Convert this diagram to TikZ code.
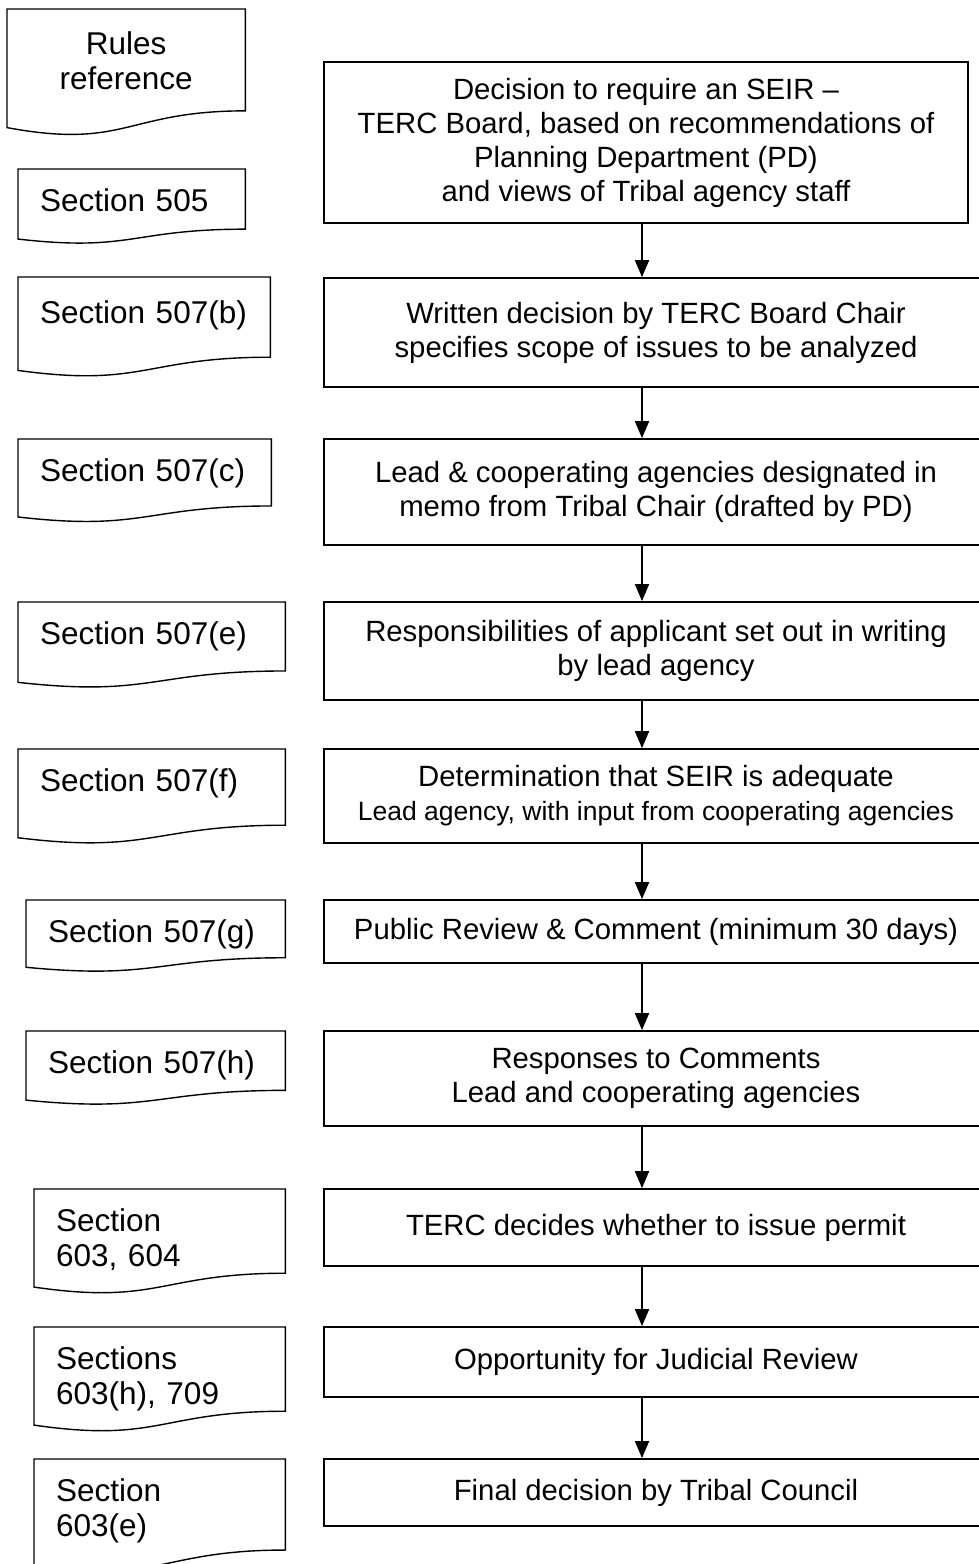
\documentclass[tikz,border=0pt]{standalone}
\usepackage{fontspec}
\setmainfont{Liberation Sans}
\usetikzlibrary{calc,arrows.meta}

\tikzset{
  stepbox/.style={draw, line width=1.8pt, align=center, inner sep=0pt,
    font=\fontsize{29.3}{34}\selectfont},
  refnote/.style={anchor=north west, align=left, inner xsep=22pt, inner ysep=19pt,
    font=\fontsize{31.5}{35}\selectfont},
  docline/.style={line width=1.4pt},
  arr/.style={line width=1.8pt, -{Triangle[length=17pt,width=14pt]}}
}

% document outline (flat top, wavy bottom) round a refnote node; #2 = full height
\newcommand{\docoutline}[2]{%
  \draw[docline] (#1.north west) -- (#1.north east)
    -- ($(#1.north east)+(0,0.802*#2)$)
    .. controls ($(#1.north)+(0,0.802*#2)$) and ($(#1.north)+(0,1.108*#2)$)
    .. ($(#1.north west)+(0,0.934*#2)$) -- cycle;}

\begin{document}
\begin{tikzpicture}[x=1pt,y=-1pt]
\useasboundingbox (0,0) rectangle (979,1564);
\clip (0,0) rectangle (979,1564);

% steps
\node[stepbox, minimum width=644pt, minimum height=161pt] (b1) at (646,142.5) {Decision to require an SEIR --\\TERC Board, based on recommendations of\\Planning Department (PD)\\and views of Tribal agency staff};
\node[stepbox, minimum width=664pt, minimum height=109pt] (b2) at (656,332.5) {Written decision by TERC Board Chair\\specifies scope of issues to be analyzed};
\node[stepbox, minimum width=664pt, minimum height=106pt] (b3) at (656,492) {Lead \& cooperating agencies designated in\\memo from Tribal Chair (drafted by PD)};
\node[stepbox, minimum width=664pt, minimum height=98pt] (b4) at (656,651) {Responsibilities of applicant set out in writing\\by lead agency};
\node[stepbox, minimum width=664pt, minimum height=94pt] (b5) at (656,796) {Determination that SEIR is adequate\\{\fontsize{26.5}{30}\selectfont Lead agency, with input from cooperating agencies}};
\node[stepbox, minimum width=664pt, minimum height=63pt] (b6) at (656,931.5) {Public Review \& Comment (minimum 30 days)};
\node[stepbox, minimum width=664pt, minimum height=95pt] (b7) at (656,1078.5) {Responses to Comments\\Lead and cooperating agencies};
\node[stepbox, minimum width=664pt, minimum height=77pt] (b8) at (656,1227.5) {TERC decides whether to issue permit};
\node[stepbox, minimum width=664pt, minimum height=70pt] (b9) at (656,1362) {Opportunity for Judicial Review};
\node[stepbox, minimum width=664pt, minimum height=67pt] (b10) at (656,1492.5) {Final decision by Tribal Council};

% rules references
\node[refnote, align=center, text width=194pt, inner ysep=22pt] (rules) at (7,9) {Rules\\reference};
\docoutline{rules}{127}
\node[refnote, text width=183pt] (s505) at (18,169) {Section 505};
\docoutline{s505}{75}
\node[refnote, text width=208pt, inner ysep=23pt] (s507b) at (18,277) {Section 507(b)};
\docoutline{s507b}{100}
\node[refnote, text width=209pt] (s507c) at (18,439) {Section 507(c)};
\docoutline{s507c}{83.5}
\node[refnote, text width=223pt] (s507e) at (18,602) {Section 507(e)};
\docoutline{s507e}{86}
\node[refnote, text width=223pt] (s507f) at (18,749) {Section 507(f)};
\docoutline{s507f}{95}
\node[refnote, text width=215pt] (s507g) at (26,900) {Section 507(g)};
\docoutline{s507g}{72}
\node[refnote, text width=215pt] (s507h) at (26,1031) {Section 507(h)};
\docoutline{s507h}{74}
\node[refnote, text width=207pt] (s603) at (34,1189) {Section\\603, 604};
\docoutline{s603}{105}
\node[refnote, text width=207pt] (s603h) at (34,1327) {Sections\\603(h), 709};
\docoutline{s603h}{105}
\node[refnote, text width=207pt] (s603e) at (34,1459) {Section\\603(e)};
\docoutline{s603e}{113.5}

% arrows
\coordinate (ax) at (642,0);
\draw[arr] (b1.south -| ax) -- (b2.north -| ax);
\draw[arr] (b2.south -| ax) -- (b3.north -| ax);
\draw[arr] (b3.south -| ax) -- (b4.north -| ax);
\draw[arr] (b4.south -| ax) -- (b5.north -| ax);
\draw[arr] (b5.south -| ax) -- (b6.north -| ax);
\draw[arr] (b6.south -| ax) -- (b7.north -| ax);
\draw[arr] (b7.south -| ax) -- (b8.north -| ax);
\draw[arr] (b8.south -| ax) -- (b9.north -| ax);
\draw[arr] (b9.south -| ax) -- (b10.north -| ax);
\end{tikzpicture}
\end{document}
